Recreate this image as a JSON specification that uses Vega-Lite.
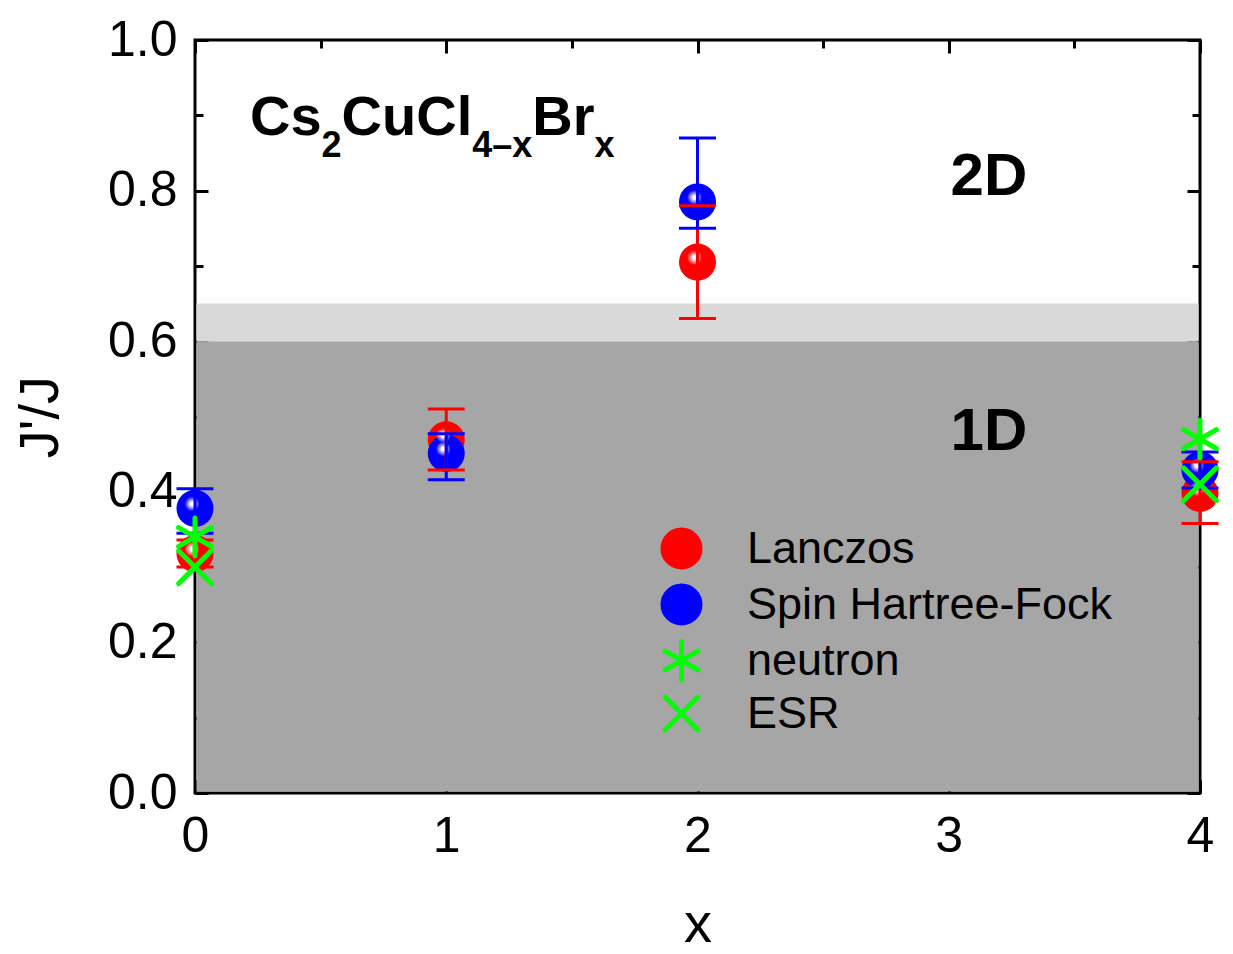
{
  "$schema": "https://vega.github.io/schema/vega-lite/v6.json",
  "width": 1005,
  "height": 753,
  "autosize": {"type": "none"},
  "padding": {"left": 195, "top": 40, "right": 33, "bottom": 161},
  "background": "white",
  "config": {
    "font": "Liberation Sans",
    "view": {"stroke": "black", "strokeWidth": 3},
    "axis": {
      "grid": false,
      "domain": false,
      "zindex": 1,
      "tickColor": "black",
      "tickWidth": 3,
      "labelFont": "Liberation Sans",
      "labelFontSize": 50,
      "labelColor": "black",
      "labelFlush": false,
      "labelOverlap": false,
      "titleFont": "Liberation Sans",
      "titleFontSize": 56,
      "titleFontWeight": "normal",
      "titleColor": "black"
    },
    "legend": {
      "orient": "none",
      "legendX": 464,
      "legendY": 486,
      "padding": 0,
      "labelFont": "Liberation Sans",
      "labelFontSize": 45,
      "labelColor": "black",
      "labelLimit": 0,
      "labelOffset": 43,
      "symbolSize": 1370,
      "symbolStrokeWidth": 5,
      "symbolOpacity": 1,
      "rowPadding": -3
    }
  },
  "datasets": {
    "pts": [
      {"x": 0, "series": "Lanczos", "v": 0.318, "lo": 0.300, "hi": 0.336},
      {"x": 1, "series": "Lanczos", "v": 0.469, "lo": 0.429, "hi": 0.510},
      {"x": 2, "series": "Lanczos", "v": 0.705, "lo": 0.630, "hi": 0.780},
      {"x": 4, "series": "Lanczos", "v": 0.398, "lo": 0.358, "hi": 0.440},
      {"x": 0, "series": "Spin Hartree-Fock", "v": 0.378, "lo": 0.345, "hi": 0.404},
      {"x": 1, "series": "Spin Hartree-Fock", "v": 0.451, "lo": 0.416, "hi": 0.477},
      {"x": 2, "series": "Spin Hartree-Fock", "v": 0.785, "lo": 0.750, "hi": 0.870},
      {"x": 4, "series": "Spin Hartree-Fock", "v": 0.429, "lo": 0.405, "hi": 0.453},
      {"x": 0, "series": "neutron", "v": 0.34},
      {"x": 4, "series": "neutron", "v": 0.47},
      {"x": 0, "series": "ESR", "v": 0.30},
      {"x": 4, "series": "ESR", "v": 0.41}
    ],
    "regions": [
      {"x0": 0, "x1": 4, "y0": 0, "y1": 0.6, "zone": "1D"},
      {"x0": 0, "x1": 4, "y0": 0.6, "y1": 0.65, "zone": "crossover"}
    ],
    "ann": [
      {"ax": 0.2189, "ay": 0.8738, "t": "Cs", "kind": "main"},
      {"ax": 0.5039, "ay": 0.8446, "t": "2", "kind": "sub"},
      {"ax": 0.5835, "ay": 0.8738, "t": "CuCl", "kind": "main"},
      {"ax": 1.1033, "ay": 0.8446, "t": "4–x", "kind": "sub"},
      {"ax": 1.3421, "ay": 0.8738, "t": "Br", "kind": "main"},
      {"ax": 1.5897, "ay": 0.8446, "t": "x", "kind": "sub"},
      {"ax": 3.16, "ay": 0.794, "t": "2D", "kind": "big"},
      {"ax": 3.16, "ay": 0.4555, "t": "1D", "kind": "big"}
    ]
  },
  "layer": [
    {
      "data": {"name": "regions"},
      "transform": [{"filter": "datum.zone == '1D'"}],
      "mark": {"type": "rect", "color": "#a6a6a6", "xOffset": 1.5, "x2Offset": -1.5, "yOffset": -1.5},
      "encoding": {
        "x": {
          "field": "x0", "type": "quantitative",
          "scale": {"domain": [0, 4], "nice": false, "zero": false},
          "axis": {
            "orient": "bottom",
            "values": [0, 0.5, 1, 1.5, 2, 2.5, 3, 3.5, 4],
            "format": "d",
            "labelExpr": "datum.value % 1 == 0 ? format(datum.value, 'd') : ''",
            "tickSize": {"condition": {"test": "datum.value % 1 == 0", "value": -13}, "value": -8},
            "labelPadding": 31,
            "title": "x",
            "titlePadding": 36
          }
        },
        "x2": {"field": "x1"},
        "y": {
          "field": "y0", "type": "quantitative",
          "scale": {"domain": [0, 1], "nice": false, "zero": false},
          "axis": {
            "orient": "left",
            "values": [0, 0.1, 0.2, 0.3, 0.4, 0.5, 0.6, 0.7, 0.8, 0.9, 1.0],
            "labelExpr": "round(datum.value * 10) % 2 == 0 ? format(datum.value, '.1f') : ''",
            "tickSize": {"condition": {"test": "round(datum.value * 10) % 2 == 0", "value": -13}, "value": -8},
            "labelPadding": 31,
            "title": "J'/J",
            "titlePadding": 38
          }
        },
        "y2": {"field": "y1"}
      }
    },
    {
      "data": {"name": "regions"},
      "transform": [{"filter": "datum.zone == 'crossover'"}],
      "mark": {"type": "rect", "color": "#d9d9d9", "xOffset": 1.5, "x2Offset": -1.5},
      "encoding": {
        "x": {
          "field": "x0", "type": "quantitative",
          "axis": {
            "orient": "top",
            "values": [0, 0.5, 1, 1.5, 2, 2.5, 3, 3.5, 4],
            "labels": false,
            "tickSize": {"condition": {"test": "datum.value % 1 == 0", "value": -13}, "value": -8},
            "title": null
          }
        },
        "x2": {"field": "x1"},
        "y": {
          "field": "y0", "type": "quantitative",
          "axis": {
            "orient": "right",
            "values": [0, 0.1, 0.2, 0.3, 0.4, 0.5, 0.6, 0.7, 0.8, 0.9, 1.0],
            "labels": false,
            "tickSize": {"condition": {"test": "round(datum.value * 10) % 2 == 0", "value": -13}, "value": -8},
            "title": null
          }
        },
        "y2": {"field": "y1"}
      }
    },
    {
      "data": {"name": "ann"},
      "transform": [{"filter": "datum.kind == 'main'"}],
      "mark": {"type": "text", "font": "Liberation Sans", "fontWeight": "bold", "fontSize": 56, "align": "left", "baseline": "alphabetic", "color": "black"},
      "encoding": {
        "x": {"field": "ax", "type": "quantitative", "axis": null},
        "y": {"field": "ay", "type": "quantitative", "axis": null},
        "text": {"field": "t"}
      }
    },
    {
      "data": {"name": "ann"},
      "transform": [{"filter": "datum.kind == 'sub'"}],
      "mark": {"type": "text", "font": "Liberation Sans", "fontWeight": "bold", "fontSize": 36, "align": "left", "baseline": "alphabetic", "color": "black"},
      "encoding": {
        "x": {"field": "ax", "type": "quantitative", "axis": null},
        "y": {"field": "ay", "type": "quantitative", "axis": null},
        "text": {"field": "t"}
      }
    },
    {
      "data": {"name": "ann"},
      "transform": [{"filter": "datum.kind == 'big'"}],
      "mark": {"type": "text", "font": "Liberation Sans", "fontWeight": "bold", "fontSize": 60, "align": "center", "baseline": "alphabetic", "color": "black"},
      "encoding": {
        "x": {"field": "ax", "type": "quantitative", "axis": null},
        "y": {"field": "ay", "type": "quantitative", "axis": null},
        "text": {"field": "t"}
      }
    },
    {
      "data": {"name": "pts"},
      "transform": [{"filter": "datum.lo != null"}],
      "mark": {"type": "point", "filled": true, "size": 1370, "opacity": 1, "strokeWidth": 0},
      "encoding": {
        "x": {"field": "x", "type": "quantitative", "axis": null},
        "y": {"field": "v", "type": "quantitative", "axis": null},
        "color": {
          "field": "series", "type": "nominal", "title": null,
          "scale": {"domain": ["Lanczos", "Spin Hartree-Fock", "neutron", "ESR"], "range": ["#ff0000", "#0000ff", "#00ff00", "#00ff00"]},
          "legend": {"encode": {"symbols": {"update": {"strokeCap": {"value": "round"}, "strokeWidth": {"value": 5}}}}}
        },
        "shape": {
          "field": "series", "type": "nominal", "title": null,
          "scale": {"domain": ["Lanczos", "Spin Hartree-Fock", "neutron", "ESR"], "range": ["circle", "circle", "M0,-1.02L0,1.02M-0.886,-0.51L0.886,0.51M-0.886,0.51L0.886,-0.51", "M-0.886,-0.886L0.886,0.886M-0.886,0.886L0.886,-0.886"]}
        }
      }
    },
    {
      "data": {"name": "pts"},
      "transform": [{"filter": "datum.lo != null"}],
      "mark": {
        "type": "point", "shape": "circle", "filled": true, "size": 1370, "opacity": 1, "strokeWidth": 0,
        "fill": {
          "gradient": "radial", "x1": 0.42, "y1": 0.38, "r1": 0, "x2": 0.42, "y2": 0.38, "r2": 0.5,
          "stops": [
            {"offset": 0, "color": "#ffffff"},
            {"offset": 0.1, "color": "#ffffff"},
            {"offset": 0.18, "color": "rgba(255,255,255,0.7)"},
            {"offset": 0.3, "color": "rgba(255,255,255,0.35)"},
            {"offset": 0.4, "color": "rgba(255,255,255,0)"},
            {"offset": 1, "color": "rgba(255,255,255,0)"}
          ]
        }
      },
      "encoding": {
        "x": {"field": "x", "type": "quantitative", "axis": null},
        "y": {"field": "v", "type": "quantitative", "axis": null}
      }
    },
    {
      "data": {"name": "pts"},
      "transform": [{"filter": "datum.lo != null"}],
      "mark": {"type": "rule", "strokeWidth": 3},
      "encoding": {
        "x": {"field": "x", "type": "quantitative", "axis": null},
        "y": {"field": "lo", "type": "quantitative", "axis": null},
        "y2": {"field": "hi"},
        "color": {"field": "series", "type": "nominal", "legend": null}
      }
    },
    {
      "data": {"name": "pts"},
      "transform": [{"filter": "datum.lo != null"}],
      "mark": {"type": "tick", "orient": "horizontal", "size": 37, "thickness": 3, "opacity": 1},
      "encoding": {
        "x": {"field": "x", "type": "quantitative", "axis": null},
        "y": {"field": "lo", "type": "quantitative", "axis": null},
        "color": {"field": "series", "type": "nominal", "legend": null}
      }
    },
    {
      "data": {"name": "pts"},
      "transform": [{"filter": "datum.lo != null"}],
      "mark": {"type": "tick", "orient": "horizontal", "size": 37, "thickness": 3, "opacity": 1},
      "encoding": {
        "x": {"field": "x", "type": "quantitative", "axis": null},
        "y": {"field": "hi", "type": "quantitative", "axis": null},
        "color": {"field": "series", "type": "nominal", "legend": null}
      }
    },
    {
      "data": {"name": "pts"},
      "transform": [{"filter": "datum.lo == null"}],
      "mark": {"type": "point", "filled": true, "size": 1370, "opacity": 1, "strokeWidth": 5, "strokeCap": "round"},
      "encoding": {
        "x": {"field": "x", "type": "quantitative", "axis": null},
        "y": {"field": "v", "type": "quantitative", "axis": null},
        "color": {"field": "series", "type": "nominal", "title": null},
        "shape": {"field": "series", "type": "nominal", "title": null},
        "stroke": {
          "field": "series", "type": "nominal", "title": null,
          "scale": {"domain": ["Lanczos", "Spin Hartree-Fock", "neutron", "ESR"], "range": ["rgba(0,0,0,0)", "rgba(0,0,0,0)", "#00ff00", "#00ff00"]}
        }
      }
    }
  ],
  "resolve": {"axis": {"x": "independent", "y": "independent"}}
}
